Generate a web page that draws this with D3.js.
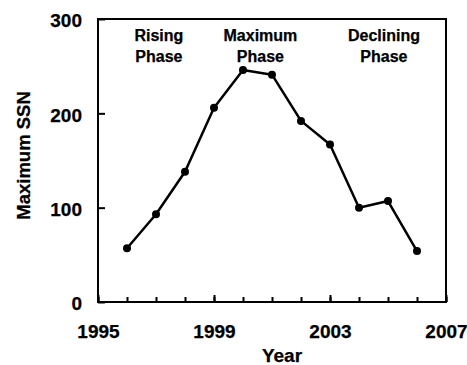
<!DOCTYPE html>
<html>
<head>
<meta charset="utf-8">
<script src="https://cdn.jsdelivr.net/npm/d3@7"></script>
<style>
  html, body { margin: 0; padding: 0; background: #fff; }
  svg text { font-family: "Liberation Sans", Arial, Helvetica, sans-serif; font-weight: bold; fill: #000; stroke: #000; stroke-width: 0.25px; }
</style>
</head>
<body>
<svg id="chart" width="467" height="365"></svg>
<script>
// Maximum sunspot number per year across solar cycle 23
const years = [1996, 1997, 1998, 1999, 2000, 2001, 2002, 2003, 2004, 2005, 2006];
const maxSSN = [57, 93, 138, 206, 246, 241, 192, 167, 100, 107, 54];

const xTicksMajor = [1995, 1999, 2003, 2007];
const xTicksMinor = [1995, 1996, 1997, 1998, 1999, 2000, 2001, 2002, 2003, 2004, 2005, 2006, 2007];
const yTicks = [0, 100, 200, 300];

const phaseLabels = [
  { lines: ["Rising", "Phase"], year: 1997.1 },
  { lines: ["Maximum", "Phase"], year: 2000.6 },
  { lines: ["Declining", "Phase"], year: 2004.86 }
];

const svg = d3.select("#chart");
const m = { left: 98, top: 19, right: 446, bottom: 302 };

const x = d3.scaleLinear().domain([1995, 2007]).range([m.left, m.right]);
const y = d3.scaleLinear().domain([0, 300]).range([m.bottom, m.top]);

// plot frame
svg.append("rect")
  .attr("x", m.left).attr("y", m.top)
  .attr("width", m.right - m.left).attr("height", m.bottom - m.top)
  .attr("fill", "none").attr("stroke", "#000").attr("stroke-width", 2);

// x axis: yearly minor ticks pointing inward
const gxMinor = svg.append("g").attr("transform", `translate(0,${m.bottom})`)
  .call(d3.axisBottom(x).tickValues(xTicksMinor).tickSize(-5).tickFormat(""));
gxMinor.select(".domain").remove();
gxMinor.selectAll(".tick line").attr("stroke-width", 2);

const gx = svg.append("g").attr("transform", `translate(0,${m.bottom})`)
  .call(d3.axisBottom(x).tickValues(xTicksMajor).tickSize(-7).tickFormat(d3.format("d")));
gx.select(".domain").remove();
gx.selectAll(".tick line").attr("stroke-width", 2);
gx.selectAll(".tick text")
  .attr("y", 36).attr("dy", 0)
  .style("font-size", "19px");

// y axis
const gy = svg.append("g").attr("transform", `translate(${m.left},0)`)
  .call(d3.axisLeft(y).tickValues(yTicks).tickSize(-7).tickFormat(d3.format("d")));
gy.select(".domain").remove();
gy.selectAll(".tick line").attr("stroke-width", 2);
gy.selectAll(".tick text")
  .attr("x", -16).attr("dy", "0.36em").attr("y", 1)
  .style("font-size", "19px");

// axis titles
svg.append("text")
  .attr("transform", `translate(30,${(m.top + m.bottom) / 2 - 5}) rotate(-90)`)
  .attr("text-anchor", "middle")
  .style("font-size", "18.5px")
  .text("Maximum SSN");

svg.append("text")
  .attr("x", (m.left + m.right) / 2 + 10).attr("y", 362)
  .attr("text-anchor", "middle")
  .style("font-size", "19px")
  .text("Year");

// phase annotations
phaseLabels.forEach(p => {
  const t = svg.append("text")
    .attr("text-anchor", "middle")
    .style("font-size", "16px");
  p.lines.forEach((ln, i) => {
    t.append("tspan").attr("x", x(p.year)).attr("y", 41 + i * 20.5).text(ln);
  });
});

// series line and markers
const data = years.map((yr, i) => ({ yr, v: maxSSN[i] }));
const line = d3.line().x(d => x(d.yr)).y(d => y(d.v));

svg.append("path")
  .datum(data)
  .attr("d", line)
  .attr("fill", "none")
  .attr("stroke", "#000")
  .attr("stroke-width", 2.5)
  .attr("stroke-linejoin", "round");

svg.selectAll("circle.pt")
  .data(data)
  .join("circle")
  .attr("class", "pt")
  .attr("cx", d => x(d.yr))
  .attr("cy", d => y(d.v))
  .attr("r", 4)
  .attr("fill", "#000");
</script>
</body>
</html>
